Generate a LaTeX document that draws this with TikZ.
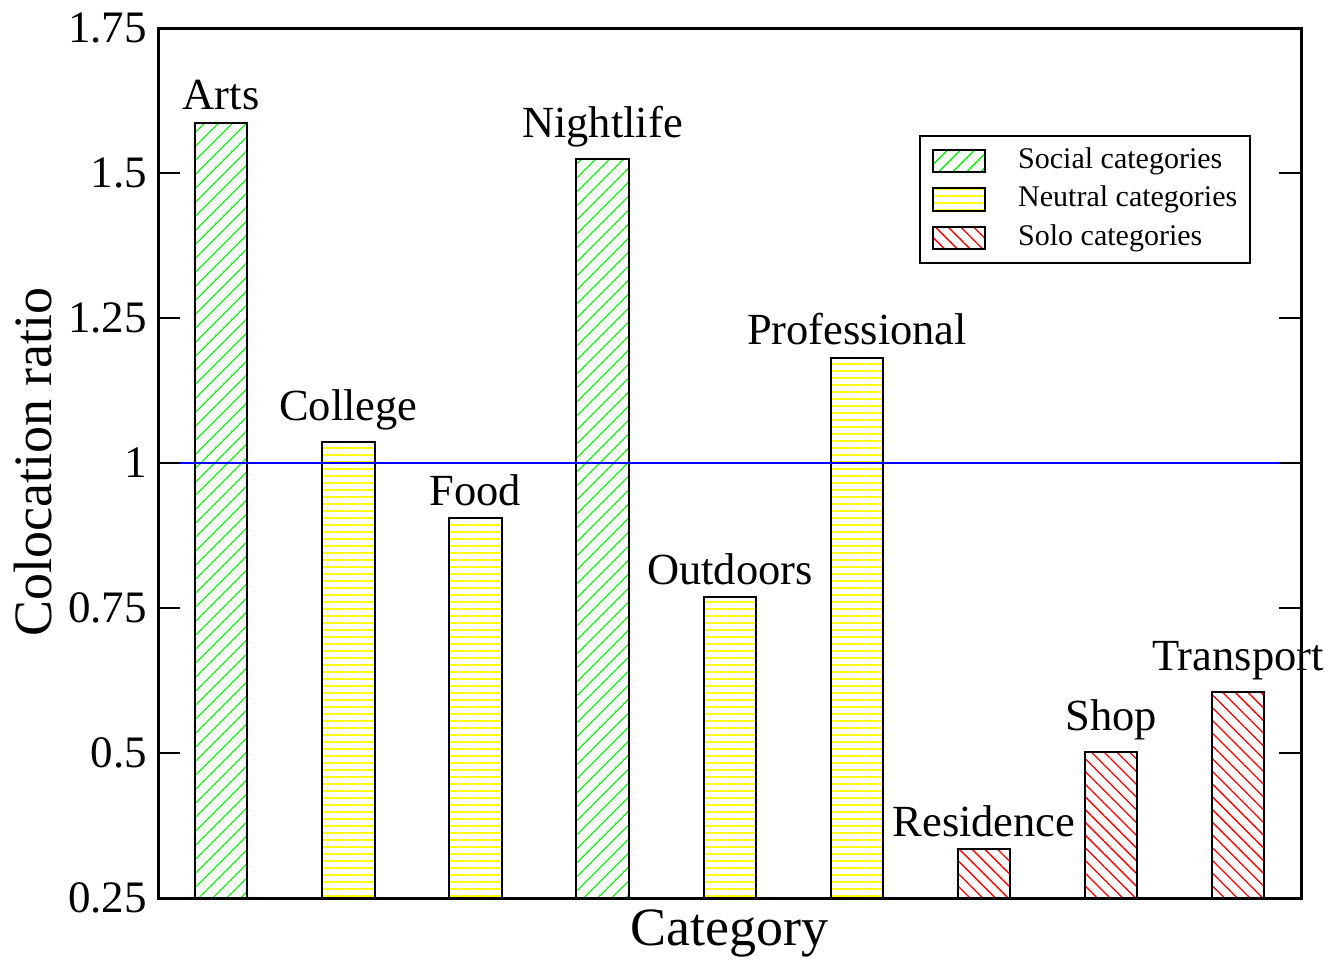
\documentclass[tikz,border=0pt]{standalone}
\usepackage{fontspec}
\setmainfont{Liberation Serif}
\usetikzlibrary{patterns.meta}
\begin{document}
\begin{tikzpicture}[x=1pt,y=-1pt,
  barbox/.style={draw=black,line width=2pt},
  social/.style={pattern={Lines[angle=45,distance=10.5pt,line width=1.3pt]},pattern color=green},
  neutral/.style={pattern={Lines[angle=0,distance=7pt,line width=2pt]},pattern color=yellow},
  solo/.style={pattern={Lines[angle=-45,distance=9pt,line width=1.3pt]},pattern color=red},
  lab/.style={font=\fontsize{44.5}{50}\selectfont, anchor=south, inner sep=0pt},
  ticklab/.style={font=\fontsize{45}{50}\selectfont, anchor=east, inner sep=0pt},
  axlab/.style={font=\fontsize{54}{60}\selectfont, anchor=base, inner sep=0pt},
  legtext/.style={font=\fontsize{30}{34}\selectfont, anchor=base west, inner sep=0pt},
  tickline/.style={line width=2pt},
]
\useasboundingbox (0,0) rectangle (1340,959);

% bars
\path[barbox,social]  (195,898) rectangle (247,122.5);
\path[barbox,neutral] (322,898) rectangle (375,442);
\path[barbox,neutral] (449,898) rectangle (502,518);
\path[barbox,social]  (576,898) rectangle (629,159);
\path[barbox,neutral] (704,898) rectangle (756,597);
\path[barbox,neutral] (831,898) rectangle (883,357.5);
\path[barbox,solo]    (958,898) rectangle (1010,849);
\path[barbox,solo]    (1085,898) rectangle (1137,752);
\path[barbox,solo]    (1212,898) rectangle (1264,692);

% reference line
\draw[blue,line width=2pt] (158,463) -- (1301,463);

% bar labels
\node[lab] (arts) at (221,110.5) {Arts};
\node[lab] (college) at (348.5,430) {College};
\node[lab] (food) at (475.5,506) {Food};
\node[lab] (nightlife) at (602.5,147) {Nightlife};
\node[lab] (outdoors) at (730,585) {Outdoors};
\node[lab] (professional) at (857,345.5) {Professional};
\node[lab] (residence) at (984,837) {Residence};
\node[lab] (shop) at (1111,740) {Shop};
\node[lab] (transport) at (1238,680) {Transport};

% frame and ticks
\draw[line width=3pt] (158,28) rectangle (1301,898);
\foreach \yy in {173,318,463,608,753} {
  \draw[tickline] (158,\yy) -- (180,\yy);
  \draw[tickline] (1301,\yy) -- (1279,\yy);
}

% tick labels
\node[ticklab] (t175) at (147,28) {1.75};
\node[ticklab] (t150) at (147,173) {1.5};
\node[ticklab] (t125) at (147,318) {1.25};
\node[ticklab] (t100) at (147,463) {1};
\node[ticklab] (t075) at (147,608) {0.75};
\node[ticklab] (t050) at (147,753) {0.5};
\node[ticklab] (t025) at (147,898) {0.25};

% axis labels
\node[axlab] (xlab) at (729.5,945) {Category};
\node[axlab,rotate=90] (ylab) at (51,462) {Colocation ratio};

% legend
\draw[line width=2pt] (920,136) rectangle (1250,263);
\path[barbox,line width=1.8pt,social]  (933,150) rectangle (985,172);
\path[barbox,line width=1.8pt,neutral] (933,188) rectangle (985,211);
\path[barbox,line width=1.8pt,solo]    (933,227) rectangle (985,249);
\node[legtext] (lsocial) at (1018,168.3) {Social categories};
\node[legtext] (lneutral) at (1018,206.7) {Neutral categories};
\node[legtext] (lsolo) at (1018,245) {Solo categories};
\end{tikzpicture}
\end{document}
